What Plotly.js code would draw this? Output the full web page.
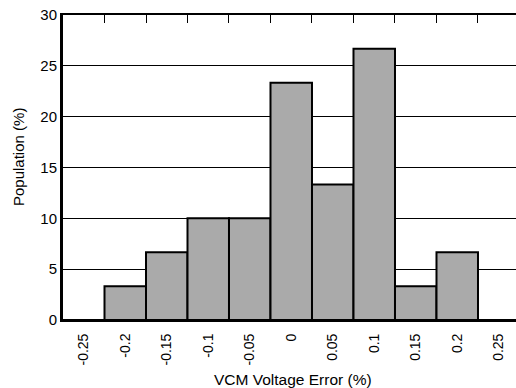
<!DOCTYPE html>
<html>
<head>
<meta charset="utf-8">
<script src="https://cdn.plot.ly/plotly-3.0.1.min.js"></script>
<style>html,body{margin:0;padding:0;background:#fff;}#chart{width:516px;height:388px;}</style>
</head>
<body>
<div id="chart"></div>
<script>
const categories = ["-0.25", "-0.2", "-0.15", "-0.1", "-0.05", "0", "0.05", "0.1", "0.15", "0.2", "0.25"];
const population = [0, 3.33, 6.67, 10, 10, 23.33, 13.33, 26.67, 3.33, 6.67, 0];
const yTicks = [0, 5, 10, 15, 20, 25, 30];
const xTitle = "VCM Voltage Error (%)";
const yTitle = "Population (%)";

const font = "Liberation Sans, Arial, sans-serif";

const trace = {
  type: "bar",
  x: categories,
  y: population,
  marker: { color: "#aaaaaa", line: { color: "#000000", width: 2 } },
  hoverinfo: "x+y"
};

const layout = {
  width: 516,
  height: 388,
  margin: { l: 63, r: 0, t: 15, b: 68 },
  paper_bgcolor: "#ffffff",
  plot_bgcolor: "#ffffff",
  bargap: 0,
  showlegend: false,
  font: { family: font, color: "#000000", size: 14 },
  xaxis: {
    type: "category",
    range: [-0.5, 10.416],
    tickson: "boundaries",
    ticks: "inside",
    ticklen: 8,
    tickwidth: 1,
    tickcolor: "#000000",
    tickangle: -90,
    ticklabelstandoff: 6,
    showline: true,
    linewidth: 2,
    linecolor: "#000000",
    mirror: "ticks",
    showgrid: false,
    zeroline: false,
    tickfont: { family: font, size: 14 }
  },
  yaxis: {
    range: [0, 30],
    tickvals: yTicks,
    ticks: "",
    showline: true,
    linewidth: 3,
    linecolor: "#000000",
    showgrid: true,
    gridcolor: "#000000",
    gridwidth: 1,
    zeroline: false,
    tickfont: { family: font, size: 15 }
  },
  annotations: [
    {
      text: xTitle, xref: "paper", yref: "paper",
      x: (293 - 63) / 453, y: (320 - 379) / 305,
      xanchor: "center", yanchor: "middle", showarrow: false,
      font: { family: font, size: 15.5, color: "#000000" }
    },
    {
      text: yTitle, xref: "paper", yref: "paper", textangle: -90,
      x: (18 - 63) / 453, y: (320 - 157) / 305,
      xanchor: "center", yanchor: "middle", showarrow: false,
      font: { family: font, size: 15, color: "#000000" }
    }
  ]
};

Plotly.newPlot("chart", [trace], layout, { displayModeBar: false, staticPlot: true });
</script>
</body>
</html>
